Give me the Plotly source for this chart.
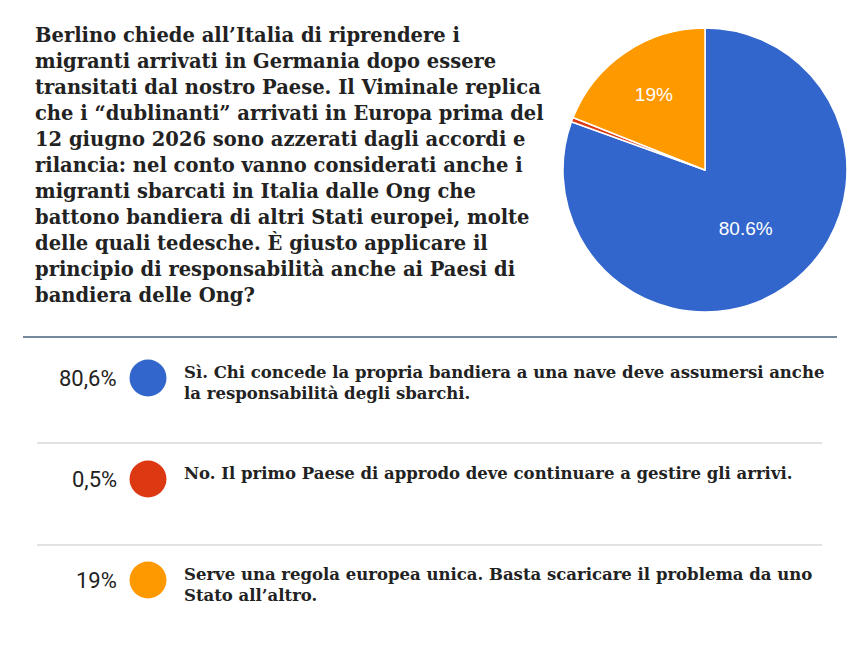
import plotly.graph_objects as go

# --- data ---------------------------------------------------------------
TITLE_LINES = [
    "Berlino chiede all’Italia di riprendere i",
    "migranti arrivati in Germania dopo essere",
    "transitati dal nostro Paese. Il Viminale replica",
    "che i “dublinanti” arrivati in Europa prima del",
    "12 giugno 2026 sono azzerati dagli accordi e",
    "rilancia: nel conto vanno considerati anche i",
    "migranti sbarcati in Italia dalle Ong che",
    "battono bandiera di altri Stati europei, molte",
    "delle quali tedesche. È giusto applicare il",
    "principio di responsabilità anche ai Paesi di",
    "bandiera delle Ong?",
]
ANSWERS = [
    "Sì. Chi concede la propria bandiera a una nave deve assumersi anche<br>la responsabilità degli sbarchi.",
    "No. Il primo Paese di approdo deve continuare a gestire gli arrivi.",
    "Serve una regola europea unica. Basta scaricare il problema da uno<br>Stato all’altro.",
]
SHARES = [80.6, 0.5, 19]
COLORS = ["#3366cc", "#dc3912", "#ff9900"]

W, H = 860, 671
INK = "#222222"
SERIF = "DejaVu Serif, serif"


def pct_it(v):
    return f"{v:g}".replace(".", ",") + "%"


fig = go.Figure()

# pie, top right
fig.add_trace(go.Pie(
    values=SHARES, labels=ANSWERS, sort=False, direction="clockwise",
    marker=dict(colors=COLORS, line=dict(color="white", width=1.5)),
    text=[f"{v:g}%" if v >= 5 else "" for v in SHARES],
    textinfo="text", textposition="inside", insidetextorientation="horizontal",
    textfont=dict(family="Liberation Sans, Arial, sans-serif", size=19, color="white"),
    hoverinfo="skip", showlegend=False,
    domain=dict(x=[563 / W, 847 / W], y=[1 - 312 / H, 1 - 28 / H]),
))

# legend circles, one per answer
row_y = [378 + i * 101 for i in range(len(SHARES))]
fig.add_trace(go.Scatter(
    x=[148] * len(SHARES), y=row_y, mode="markers",
    marker=dict(size=37, color=COLORS, line=dict(width=0)),
    hoverinfo="skip", showlegend=False,
))

annotations = []
for i, line in enumerate(TITLE_LINES):
    annotations.append(dict(
        x=33, y=35 + i * 26, xref="x", yref="y", text=line, showarrow=False,
        xanchor="left", yanchor="middle",
        font=dict(family=SERIF, size=19.5, color=INK, weight="bold"),
    ))
for y, v, txt in zip(row_y, SHARES, ANSWERS):
    annotations.append(dict(
        x=119, y=y, xref="x", yref="y", text=pct_it(v), showarrow=False,
        xanchor="right", yanchor="middle",
        font=dict(family="Roboto, sans-serif", size=22, color=INK),
    ))
    annotations.append(dict(
        x=182, y=y - 17, xref="x", yref="y", text=txt, showarrow=False,
        xanchor="left", yanchor="top", align="left",
        font=dict(family=SERIF, size=16.5, color=INK, weight="bold"),
    ))

shapes = [
    dict(type="line", xref="x", yref="y", x0=23, x1=837, y0=337, y1=337,
         line=dict(color="#46627a", width=1.5)),
    dict(type="line", xref="x", yref="y", x0=37, x1=822, y0=443, y1=443,
         line=dict(color="#e2e2e2", width=2)),
    dict(type="line", xref="x", yref="y", x0=37, x1=822, y0=545, y1=545,
         line=dict(color="#e2e2e2", width=2)),
]

fig.update_layout(
    width=W, height=H, margin=dict(l=0, r=0, t=0, b=0),
    paper_bgcolor="white", plot_bgcolor="white",
    xaxis=dict(range=[0, W], visible=False, fixedrange=True),
    yaxis=dict(range=[H, 0], visible=False, fixedrange=True),
    annotations=annotations, shapes=shapes,
)

# the page body has a default margin; drop it so the figure sits at 0,0
fig.write_html("out.html", config={"displayModeBar": False},
               post_script="document.body.style.margin='0';")
